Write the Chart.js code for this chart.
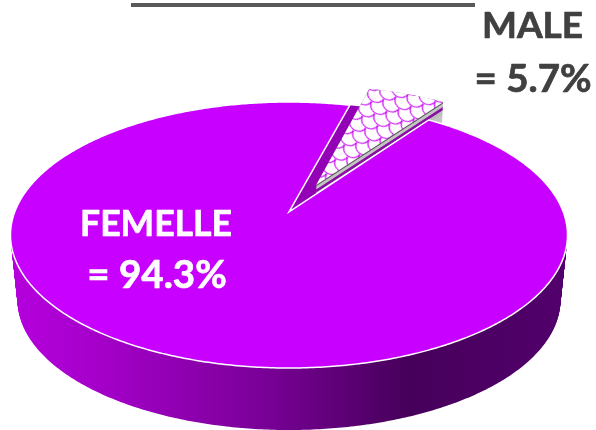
<!DOCTYPE html>
<html><head><meta charset="utf-8">
<style>html,body{margin:0;padding:0;background:#fff;overflow:hidden}
#c{display:block}
#rule{position:absolute;left:131px;top:3px;width:344px;height:3.5px;background:#595959}</style>
<script src="https://cdn.jsdelivr.net/npm/chart.js@4/dist/chart.umd.min.js"></script>
</head><body>
<canvas id="c" width="596" height="430"></canvas>
<div id="rule"></div>
<script>
const categories = ['MALE', 'FEMELLE'];
const shares = [5.7, 94.3];
const sliceOffsets = [46, 0];
const sliceBorderWidths = [0, 1.5];
const topFemale = '#c800ff';
const startRotation = 15;

// Camera used to lay the flat pie down: top rim, bottom rim, perspective
const rim = {cx: 289, cy: 235, rx: 278.5, ry: 133, dy: 65, drx: 7, dry: 3, k: -0.173};
const explodedScale = 0.96;
function project(u, v, t) {
  const ry = rim.ry - rim.dry * t, rx = rim.rx - rim.drx * t;
  const w = 1 + rim.k * v;
  const a = rx * Math.sqrt(1 - rim.k * rim.k);
  return [rim.cx + a * u / w, rim.cy + rim.dy * t + (ry * v + ry * rim.k) / w];
}
function tracePath(ctx, el, t) {
  const R = el.outerRadius, s = el.startAngle, e = el.endAngle;
  const mid = (s + e) / 2, off = (el.options.offset || 0) / R;
  const ox = off * Math.cos(mid), oy = off * Math.sin(mid);
  const q = off ? explodedScale : 1;
  ctx.beginPath();
  let p = project(ox, oy, t); ctx.moveTo(p[0], p[1]);
  const n = Math.max(8, Math.ceil((e - s) / 0.01));
  for (let i = 0; i <= n; i++) {
    const a = s + (e - s) * i / n;
    p = project(ox + q * Math.cos(a), oy + q * Math.sin(a), t);
    ctx.lineTo(p[0], p[1]);
  }
  ctx.closePath();
}
function shinglePattern() {
  const c = document.createElement('canvas'); c.width = 18; c.height = 20;
  const g = c.getContext('2d');
  g.fillStyle = '#fff'; g.fillRect(0, 0, 18, 20);
  g.strokeStyle = '#cf22f5'; g.lineWidth = 1.4;
  const sc = (x, y) => { g.beginPath(); g.moveTo(x, y); g.quadraticCurveTo(x + 1, y + 8, x + 9, y + 9); g.quadraticCurveTo(x + 17, y + 8, x + 18, y); g.stroke(); };
  sc(0, 0); sc(-9, 10); sc(9, 10);
  const pat = g.createPattern(c, 'repeat');
  pat.setTransform(new DOMMatrix().rotate(32).scale(1, 0.85));
  return pat;
}
const maleWall = [[1.2, '#5a5a5a'], [4.5, '#c4c4c4'], [7.5, '#8a10a4'], [11, '#bdbdbd'], [40, '#c4c4c4']];

const pie3d = {
  id: 'pie3d',
  beforeDatasetDraw(chart, args) {
    const ctx = chart.ctx, arcs = args.meta.data;
    const male = arcs[0], female = arcs[1];
    const side = ctx.createLinearGradient(17, 0, 561, 0);
    side.addColorStop(0, '#b400dc');
    side.addColorStop(0.16, '#a400c8');
    side.addColorStop(0.45, '#7a0098');
    side.addColorStop(0.72, '#46005a');
    side.addColorStop(1, '#52006c');
    ctx.save();
    // body of the large slice
    for (let y = rim.dy; y >= 0; y -= 1) {
      tracePath(ctx, female, y / rim.dy);
      ctx.fillStyle = side; ctx.fill();
    }
    // cut wall seen through the notch
    const notch = {x: male.x, y: male.y, outerRadius: male.outerRadius,
      startAngle: male.startAngle, endAngle: male.endAngle, options: {offset: 0}};
    tracePath(ctx, notch, 0); ctx.fillStyle = '#9400b6'; ctx.fill();
    // exploded slice wall, then hatched top
    for (let i = maleWall.length - 1; i >= 0; i--) {
      const [d, col] = maleWall[i];
      const from = i ? maleWall[i - 1][0] : 0;
      for (let y = d; y >= from; y -= 0.5) {
        tracePath(ctx, male, y / rim.dy); ctx.fillStyle = col; ctx.fill();
      }
    }
    tracePath(ctx, male, 0); ctx.fillStyle = male.options.backgroundColor; ctx.fill();
    // top of the large slice
    tracePath(ctx, female, 0);
    ctx.fillStyle = female.options.backgroundColor; ctx.fill();
    ctx.lineJoin = 'miter'; ctx.lineWidth = female.options.borderWidth; ctx.strokeStyle = female.options.borderColor;
    ctx.stroke();
    ctx.restore();
    return false;
  },
  afterDraw(chart) {
    const ctx = chart.ctx, d = chart.data;
    ctx.save();
    ctx.textAlign = 'center'; ctx.textBaseline = 'alphabetic'; ctx.lineWidth = 0.7; ctx.lineJoin = 'round';
    const put = (t, x, y, size, col) => {
      ctx.font = 'bold ' + size + 'px Lato';
      ctx.fillStyle = col; ctx.strokeStyle = col;
      ctx.fillText(t, x, y); ctx.strokeText(t, x, y);
    };
    put(d.labels[0], 532.5, 38, 37, '#404040');
    put('= ' + d.datasets[0].data[0] + '%', 533, 92, 38.5, '#404040');
    put(d.labels[1], 156, 236, 35.5, '#ffffff');
    put('= ' + d.datasets[0].data[1] + '%', 157, 288, 38.5, '#ffffff');
    ctx.restore();
  }
};

new Chart(document.getElementById('c'), {
  type: 'pie',
  data: {
    labels: categories,
    datasets: [{
      data: shares,
      offset: sliceOffsets,
      borderWidth: sliceBorderWidths,
      borderColor: '#ffffff',
      backgroundColor: [shinglePattern(), topFemale]
    }]
  },
  options: {
    responsive: false, animation: false, rotation: startRotation,
    layout: {padding: 0},
    plugins: {legend: {display: false}, tooltip: {enabled: false}, title: {display: false}}
  },
  plugins: [pie3d]
});
</script>
</body></html>
